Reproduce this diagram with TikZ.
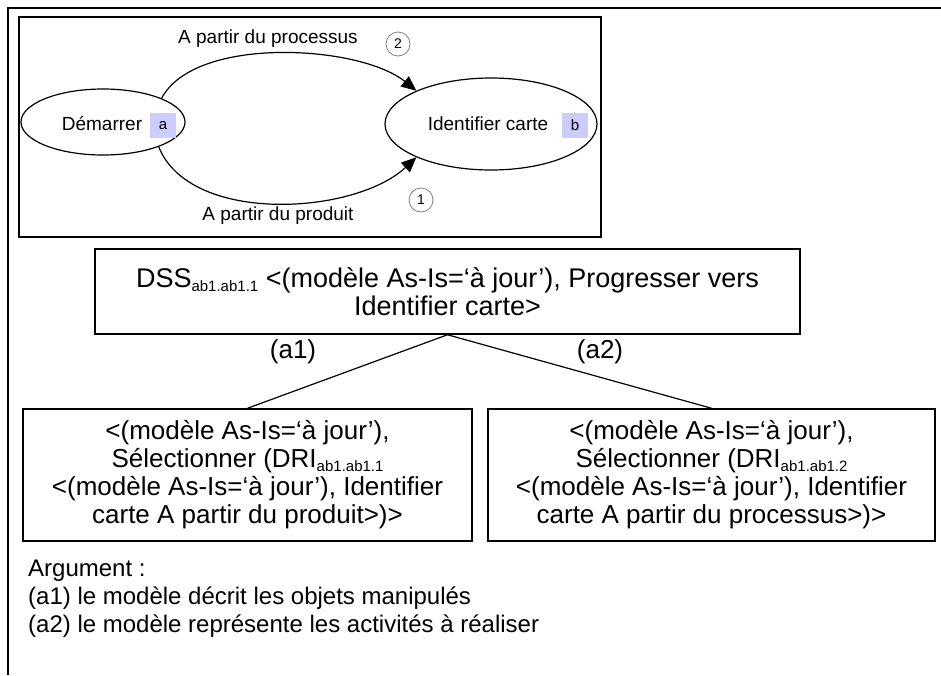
\documentclass[tikz,border=0pt]{standalone}
\usepackage{fontspec}
\setmainfont{Liberation Sans}
\usetikzlibrary{shapes.geometric,arrows.meta}
\definecolor{tagblue}{RGB}{204,204,255}
\newcommand{\dssidx}[1]{\raisebox{-4pt}[0pt][0pt]{\fontsize{15}{15}\selectfont #1}}

\begin{document}
\begin{tikzpicture}[x=1pt,y=-1pt,
  frame/.style={draw,line width=1.6pt},
  etat/.style={draw,ellipse,line width=1.2pt,inner sep=0pt},
  tag/.style={fill=tagblue,font=\fontsize{15}{15}\selectfont,minimum width=26pt,minimum height=25pt,inner sep=0pt},
  lab/.style={font=\fontsize{19}{23}\selectfont},
  num/.style={draw=gray,circle,line width=0.8pt,minimum size=24pt,inner sep=0pt,font=\fontsize{14}{14}\selectfont},
  arr/.style={line width=1.2pt,-{Triangle[length=15pt,width=13pt]}},
  box/.style={draw,line width=1.5pt,align=center,inner sep=0pt,font=\fontsize{26}{28}\selectfont},
  txt/.style={anchor=base west,inner sep=0pt,font=\fontsize{24}{28}\selectfont}]
  \useasboundingbox (0,0) rectangle (941,675);
  \draw[frame] (8,675) -- (8,8) -- (941,8);
  \draw[frame] (19,17) rectangle (601,237);
  \node[etat,minimum width=164pt,minimum height=66pt] (dem) at (103,122) {};
  \node[etat,minimum width=212pt,minimum height=92pt] (idc) at (491,124) {};
  \node[lab] (demtxt) at (102,124) {Démarrer};
  \node[tag] (taga) at (163,125.5) {a};
  \node[lab] (idctxt) at (488,124) {Identifier carte};
  \node[tag] (tagb) at (575,125.5) {b};
  \draw[arr] (dem.22) .. controls (195,35) and (360,45) .. (idc.156);
  \draw[arr] (dem.-24) .. controls (190,225) and (355,215) .. (idc.204);
  \node[lab] (proc) at (268,39) {A partir du processus};
  \node[lab] (prod) at (278,216) {A partir du produit};
  \node[num] (n2) at (398,44) {2};
  \node[num] (n1) at (421,200) {1};
  \node[box,minimum width=705pt,minimum height=85pt,font=\fontsize{27}{28}\selectfont] (dss) at (447.5,291.5)
    {DSS\dssidx{ab1.ab1.1} <(modèle As-Is=‘à jour’), Progresser vers\\Identifier carte>};
  \node[box,minimum width=449pt,minimum height=132pt] (sel1) at (247.5,475)
    {<(modèle As-Is=‘à jour’),\\Sélectionner (DRI\dssidx{ab1.ab1.1}\\<(modèle As-Is=‘à jour’), Identifier\\carte A partir du produit>)>};
  \node[box,minimum width=447pt,minimum height=132pt] (sel2) at (711.5,475)
    {<(modèle As-Is=‘à jour’),\\Sélectionner (DRI\dssidx{ab1.ab1.2}\\<(modèle As-Is=‘à jour’), Identifier\\carte A partir du processus>)>};
  \draw[line width=1.2pt] (dss.south) -- (sel1.north);
  \draw[line width=1.2pt] (dss.south) -- (sel2.north);
  \node[font=\fontsize{26}{28}\selectfont] (a1) at (293,352) {(a1)};
  \node[font=\fontsize{26}{28}\selectfont] (a2) at (600,352) {(a2)};
  \node[txt] (arg) at (28,576) {Argument :};
  \node[txt] (argA) at (28,604) {(a1) le modèle décrit les objets manipulés};
  \node[txt] (argB) at (28,632) {(a2) le modèle représente les activités à réaliser};
\end{tikzpicture}
\end{document}
